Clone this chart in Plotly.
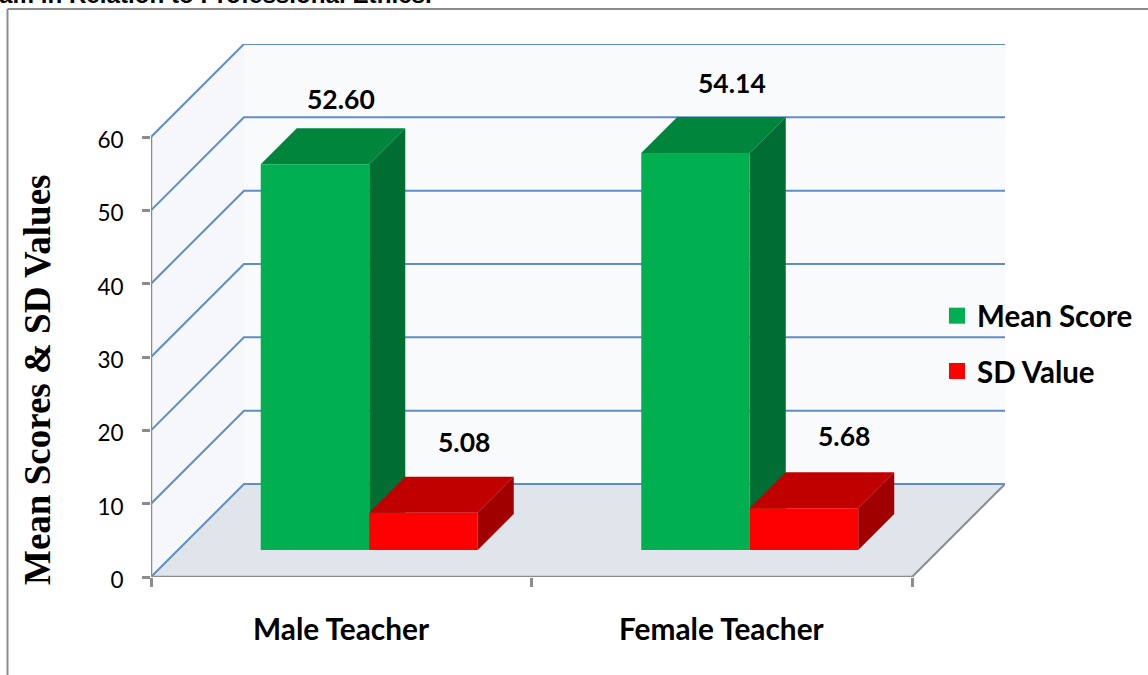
import plotly.graph_objects as go

# ---- data ----
categories = ["Male Teacher", "Female Teacher"]
series_names = ["Mean Score", "SD Value"]
mean_score = [52.60, 54.14]
sd_value = [5.08, 5.68]
mean_labels = ["52.60", "54.14"]
sd_labels = ["5.08", "5.68"]
y_ticks = [0, 10, 20, 30, 40, 50, 60]
title_fragment = "am in Relation to Professional Ethics."
y_title = "Mean Scores & SD Values"

# ---- geometry (pixel sizes converted to axis units) ----
W, H = 1148, 675
L, R, T, B = 151, 143, 44, 98
PX_X = 380.5          # px per category
PX_Y = 440 / 60       # px per value unit
WALL_X, WALL_Y = 93 / PX_X, 93 / PX_Y
X_RANGE = (W - L - R) / PX_X
Y_RANGE = (H - T - B) / PX_Y
plot_w, plot_h = W - L - R, H - T - B


def px_x(p):
    return p / PX_X


def px_y(p):
    return p / PX_Y


FRONT_X, FRONT_Y = px_x(28), px_y(27)
DEPTH_X, DEPTH_Y = px_x(36), px_y(36)
BAR_W = px_x(108.5)

GREEN = ("#00b050", "#00863c", "#006e32")
RED = ("#ff0000", "#c00000", "#a00000")
GRID = "#5f8dc6"
AXIS = "#8c8c8c"
FONT = "Lato"

fig = go.Figure()


def poly(xs, ys, color, width=0, line=None):
    fig.add_trace(go.Scatter(
        x=xs, y=ys, mode="lines", fill="toself", fillcolor=color,
        line=dict(color=line or color, width=width),
        hoverinfo="skip", showlegend=False, cliponaxis=False))


def seg(xs, ys, color, width):
    fig.add_trace(go.Scatter(
        x=xs, y=ys, mode="lines", line=dict(color=color, width=width),
        hoverinfo="skip", showlegend=False, cliponaxis=False))


# walls and floor
poly([WALL_X, X_RANGE, X_RANGE, WALL_X], [WALL_Y, WALL_Y, Y_RANGE, Y_RANGE], "#f9fafc")
poly([0, WALL_X, WALL_X, 0], [0, WALL_Y, Y_RANGE, 60], "#f5f7fa")
poly([0, 2, X_RANGE, WALL_X], [0, 0, WALL_Y, WALL_Y], "#e0e5ec")

# gridlines on side wall and back wall
for t in y_ticks:
    seg([0, WALL_X, X_RANGE], [t, t + WALL_Y, t + WALL_Y], GRID, 2)

# axes and floor edge
seg([0, 0], [0, 60], AXIS, 2.5)
seg([0, 2], [0, 0], AXIS, 2.5)
seg([2, X_RANGE], [0, WALL_Y], AXIS, 2)


def box(left, value, colors):
    x0 = left + FRONT_X
    x1 = x0 + BAR_W
    y0 = FRONT_Y
    y1 = FRONT_Y + value
    # side, top, front
    poly([x1, x1 + DEPTH_X, x1 + DEPTH_X, x1],
         [y0, y0 + DEPTH_Y, y1 + DEPTH_Y, y1], colors[2])
    poly([x0, x1, x1 + DEPTH_X, x0 + DEPTH_X],
         [y1, y1, y1 + DEPTH_Y, y1 + DEPTH_Y], colors[1])
    poly([x0, x1, x1, x0], [y0, y0, y1, y1], colors[0])


for i in range(len(categories)):
    box(i + 0.5 - BAR_W, mean_score[i], GREEN)
    box(i + 0.5, sd_value[i], RED)

# legend entries
for name, col in zip(series_names, (GREEN[0], RED[0])):
    fig.add_trace(go.Scatter(
        x=[None], y=[None], mode="markers", name=name, legendgroup=name,
        marker=dict(symbol="square", size=16, color=col)))

ann = []
# data labels
mean_shift = [(26, 29), (36, 34)]
sd_shift = [(40, 35), (40, 36)]
for i in range(len(categories)):
    xm = i + 0.5 - BAR_W / 2 + FRONT_X
    xs = i + 0.5 + BAR_W / 2 + FRONT_X
    for x, v, lab, sh in ((xm, mean_score[i], mean_labels[i], mean_shift[i]),
                          (xs, sd_value[i], sd_labels[i], sd_shift[i])):
        ann.append(dict(x=x, y=FRONT_Y + v + DEPTH_Y, text=f"<b>{lab}</b>", showarrow=False,
                        xshift=sh[0], yshift=sh[1], yanchor="middle",
                        font=dict(family=FONT, size=26.5, color="black")))
    # category labels
    ann.append(dict(x=i + 0.5, xref="x", y=(H - 628 - B) / plot_h, yref="paper", yanchor="middle",
                    text=f"<b>{categories[i]}</b>", showarrow=False,
                    font=dict(family=FONT, size=29.8, color="black")))

ann.append(dict(x=(37 - L) / plot_w, xref="paper", y=(H - 380 - B) / plot_h, yref="paper",
                xanchor="center", yanchor="middle",
                text=f"<b>{y_title}</b>", textangle=-90, showarrow=False,
                font=dict(family="Liberation Serif", size=37, color="black")))
ann.append(dict(x=(-3 - L) / plot_w, xref="paper", xanchor="left", yanchor="middle",
                y=(H + 6 - B) / plot_h, yref="paper",
                text=f"<b>{title_fragment}</b>", showarrow=False,
                font=dict(family="Liberation Sans", size=24.2, color="black")))

# chart frame
frame_x = (7.5 - L) / plot_w
frame_y = (H - 9 - B) / plot_h
shapes = [
    dict(type="line", xref="paper", yref="paper", x0=frame_x, x1=(W - L) / plot_w,
         y0=frame_y, y1=frame_y, line=dict(color=AXIS, width=2)),
    dict(type="line", xref="paper", yref="paper", x0=frame_x, x1=frame_x,
         y0=-B / plot_h, y1=frame_y, line=dict(color=AXIS, width=2)),
]

fig.update_layout(
    width=W, height=H, margin=dict(l=L, r=R, t=T, b=B, pad=0, autoexpand=False),
    paper_bgcolor="white", plot_bgcolor="rgba(0,0,0,0)",
    annotations=ann, shapes=shapes,
    font=dict(family=FONT, color="black"),
    legend=dict(x=(937 - L) / plot_w, xanchor="left", y=(H - 290 - B) / plot_h, yanchor="top",
                bgcolor="rgba(0,0,0,0)", traceorder="grouped", tracegroupgap=14,
                itemsizing="trace", font=dict(family=FONT, size=29.5, color="black",
                                              weight="bold")),
    xaxis=dict(range=[0, X_RANGE], tickvals=[0, 1, 2], ticktext=["", "", ""], ticks="outside",
               ticklen=9, tickcolor=AXIS, tickwidth=2.5, showgrid=False, zeroline=False,
               showline=False, fixedrange=True),
    yaxis=dict(range=[0, Y_RANGE], tickvals=y_ticks, ticks="outside", ticklen=8, tickcolor=AXIS,
               tickwidth=2.5, showgrid=False, zeroline=False, showline=False, ticklabelstandoff=14,
               ticklabelshift=3,
               tickfont=dict(family=FONT, size=22.5, color="black"), fixedrange=True),
)

fig.write_html("out.html", config=dict(displayModeBar=False),
               post_script="document.body.style.margin='0';document.body.style.overflow='hidden';")
